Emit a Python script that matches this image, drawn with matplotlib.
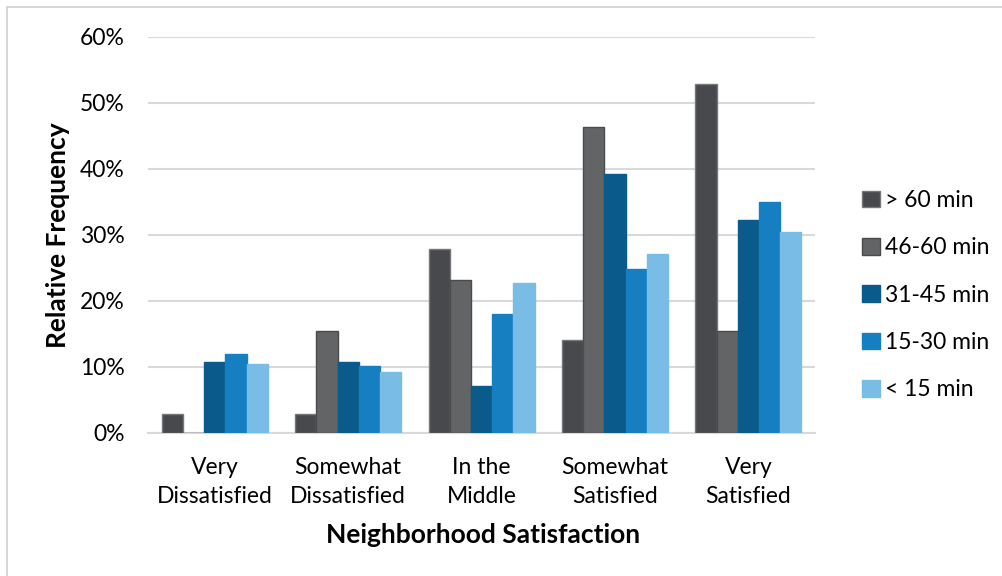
import numpy as np
import matplotlib.pyplot as plt
from matplotlib.patches import Rectangle
from matplotlib.ticker import FuncFormatter, MultipleLocator

plt.rcParams['font.family'] = ['Lato', 'DejaVu Sans']

## Data
categories = ['Very\nDissatisfied', 'Somewhat\nDissatisfied', 'In the\nMiddle', 'Somewhat\nSatisfied', 'Very\nSatisfied']
series_names = ['> 60 min', '46-60 min', '31-45 min', '15-30 min', '< 15 min']
gt60 = [2.9, 2.9, 27.9, 14.1, 52.9]
m46_60 = [0.0, 15.5, 23.2, 46.3, 15.5]
m31_45 = [10.8, 10.8, 7.1, 39.3, 32.2]
m15_30 = [11.9, 10.2, 18.0, 24.8, 35.0]
lt15 = [10.5, 9.3, 22.7, 27.1, 30.4]

colors = ['#48494d', '#636466', '#0b5a8c', '#167fc2', '#79bde6']
edges = ['#77787b', '#4a4b4e', '#0b5a8c', '#167fc2', '#79bde6']

fig = plt.figure(figsize=(10.03, 5.76), dpi=100)
ax = fig.add_axes([0.1476, 0.2483, 0.665, 0.6875])

## Outer frame
fig.patches.append(Rectangle((7/1003, -0.1), 1.2, 1 - 7/576 + 0.1, transform=fig.transFigure,
                             fill=False, edgecolor='#d0d0d0', linewidth=1.2))

x = np.arange(len(categories))
w = 0.159
all_series = [gt60, m46_60, m31_45, m15_30, lt15]
for i, vals in enumerate(all_series):
    ax.bar(x + (i - 2) * w, vals, width=w, color=colors[i], edgecolor=edges[i],
           linewidth=1.0, label=series_names[i], zorder=3)

ax.set_xlim(-0.5, 4.5)
ax.set_ylim(0, 60)
ax.yaxis.set_major_locator(MultipleLocator(10))
ax.yaxis.set_major_formatter(FuncFormatter(lambda v, p: '%d%%' % v))
ax.grid(axis='y', color='#d9d9d9', linewidth=1.5, zorder=0)
for s in ['top', 'right', 'left']:
    ax.spines[s].set_visible(False)
ax.spines['bottom'].set_color('#d9d9d9')
ax.spines['bottom'].set_linewidth(1.5)
ax.tick_params(axis='both', length=0, labelsize=16.5)
ax.tick_params(axis='y', pad=17)
ax.set_xticks(x)
ax.set_xticklabels(categories, linespacing=1.5)
ax.tick_params(axis='x', pad=17)

ax.set_ylabel('Relative Frequency', fontsize=19, fontweight='bold')
ax.yaxis.set_label_coords(-0.117, 0.5)
ax.set_xlabel('Neighborhood Satisfaction', fontsize=19, fontweight='bold')
ax.xaxis.set_label_coords(0.502, -0.228)

ax.legend(loc='center left', bbox_to_anchor=(1.04, 0.348), frameon=False, fontsize=16.5,
          handlelength=0.75, handleheight=0.75, handletextpad=0.25, labelspacing=1.15)

plt.savefig('out.png', dpi=100)
